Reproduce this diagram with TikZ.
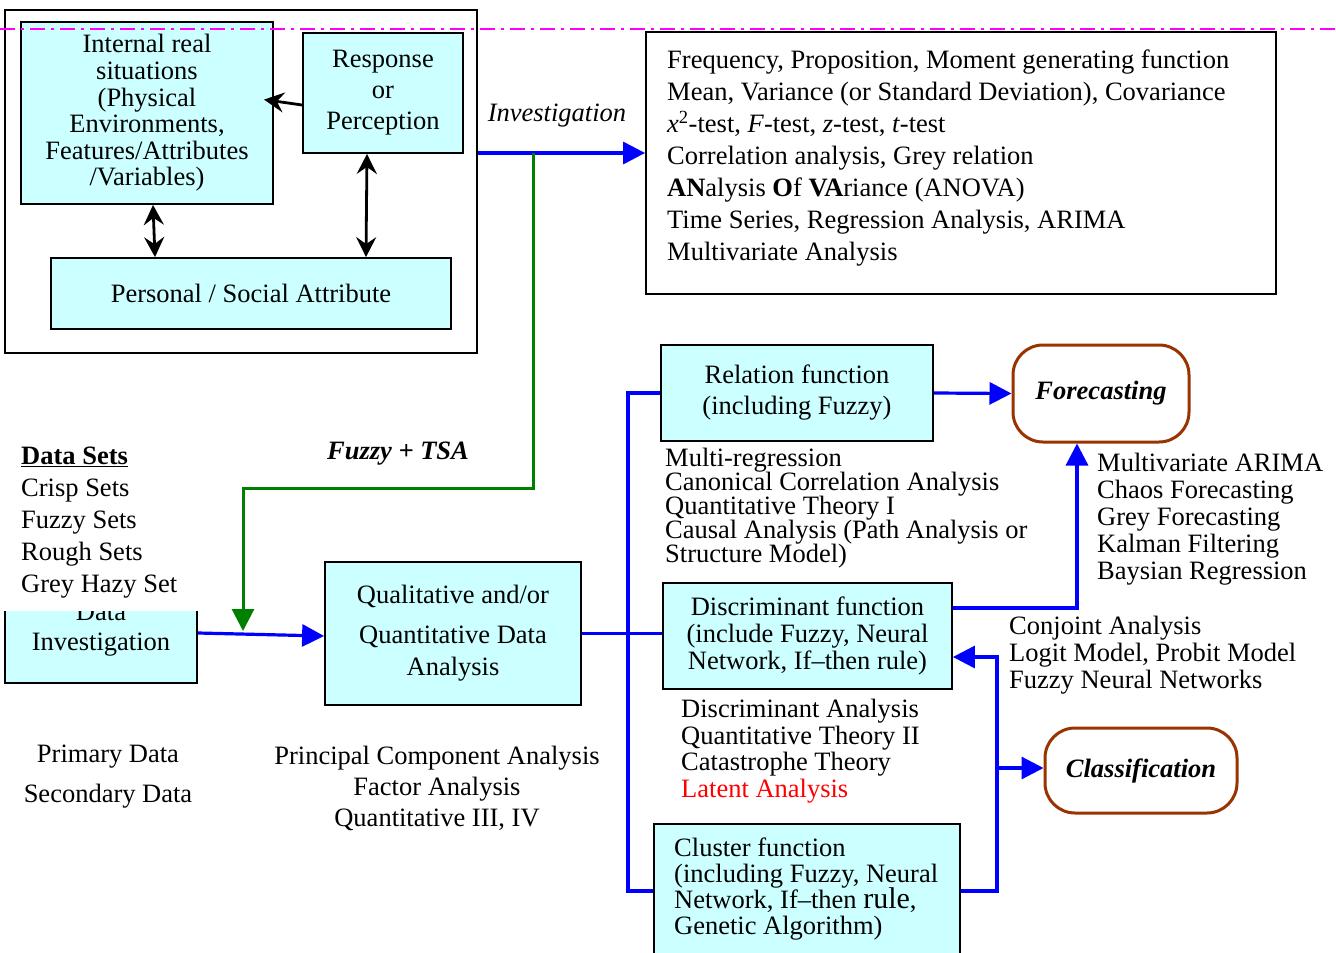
\documentclass[tikz,border=0pt]{standalone}
\usepackage{fontspec}
\setmainfont{Liberation Serif}
\usetikzlibrary{arrows.meta}

\definecolor{cyanfill}{HTML}{CCFFFF}
\definecolor{flowblue}{HTML}{0000FF}
\definecolor{flowgreen}{HTML}{008000}
\definecolor{rimbrown}{HTML}{993300}
\definecolor{guide}{HTML}{FF00FF}
\definecolor{alert}{HTML}{FF0000}

\newcommand{\fs}[2]{\fontsize{#1}{#2}\selectfont\lineskiplimit=-50pt\relax}

\begin{document}
\begin{tikzpicture}[x=1pt,y=-1pt,
  box/.style={draw=black, line width=1.8pt, fill=cyanfill, inner sep=0pt, align=center},
  frame/.style={draw=black, line width=1.8pt, inner sep=0pt},
  roundbox/.style={draw=rimbrown, line width=3pt, rounded corners=30pt, fill=white, inner sep=0pt,
    font=\fs{26.5}{30}\bfseries\itshape},
  txt/.style={inner sep=0pt, align=left},
  ctxt/.style={inner sep=0pt, align=center},
  blueflow/.style={draw=flowblue, line width=3.2pt},
  bluearrow/.style={blueflow, -{Triangle[length=22pt,width=22pt]}},
  greenarrow/.style={draw=flowgreen, line width=3pt, -{Triangle[length=22pt,width=22pt]}},
  blackarrow/.style={draw=black, line width=2.8pt, -{Stealth[length=20pt,width=20pt,inset=7pt]}},
  blackboth/.style={draw=black, line width=2.8pt,
    {Stealth[length=20pt,width=20pt,inset=7pt]}-{Stealth[length=20pt,width=20pt,inset=7pt]}}
]
\useasboundingbox (0,0) rectangle (1336,953);
\clip (0,0) rectangle (1336,953);
\fill[white] (0,0) rectangle (1336,953);

% ---- perception group (top left) ----
\node[frame, minimum width=472pt, minimum height=343pt] (outer) at (241,181.5) {};
\node[box, minimum width=252pt, minimum height=182pt, font=\fs{26.5}{26.6}] (internal) at (147,113)
  {Internal real\\situations\\(Physical\\Environments,\\Features/Attributes\\/Variables)};
\node[box, minimum width=160pt, minimum height=120pt, font=\fs{26.5}{31}] (resp) at (383,93)
  {Response\\or\\Perception};
\node[box, minimum width=400pt, minimum height=71pt, font=\fs{26.5}{30}] (personal) at (251,293.5)
  {Personal / Social Attribute};

\draw[blackarrow, shorten >=-10pt] (resp.west |- 0,105) -- (internal.east |- 0,101);
\draw[blackboth] (internal.south -| 153,0) -- (personal.north -| 155,0);
\draw[blackboth] (resp.south -| 367,0) -- (personal.north -| 366,0);

% ---- statistics list ----
\node[frame, minimum width=630pt, minimum height=262pt] (stats) at (961,163) {};
\node[txt, anchor=west, font=\fs{26.5}{32}] (statstext) at (667,158.5)
  {Frequency, Proposition, Moment generating function\\
   Mean, Variance (or Standard Deviation), Covariance\\
   \textit{x}\textsuperscript{2}-test, \textit{F}-test, \textit{z}-test, \textit{t}-test\\
   Correlation analysis, Grey relation\\
   \textbf{AN}alysis \textbf{O}f \textbf{VA}riance (ANOVA)\\
   Time Series, Regression Analysis, ARIMA\\
   Multivariate Analysis};

\node[ctxt, font=\fs{26.5}{30}\itshape] (invlabel) at (557,116) {Investigation};
\coordinate (gsplit) at (533,153);
\draw[bluearrow] (outer.east |- 0,153) -- (stats.west |- 0,153);

% ---- data side ----
\node[box, minimum width=192pt, minimum height=106pt, font=\fs{26.5}{30}] (datainv) at (101,630)
  {Data\\Investigation};
\fill[white] (0,438) rectangle (222,611);
\node[txt, anchor=west, font=\fs{26.5}{32}] (datasets) at (21,522.5)
  {\underline{\textbf{Data Sets}}\\Crisp Sets\\Fuzzy Sets\\Rough Sets\\Grey Hazy Set};

\node[ctxt, font=\fs{26.5}{30}\bfseries\itshape] (fuzzylabel) at (398,454) {Fuzzy + TSA};

\node[box, minimum width=256pt, minimum height=143pt, font=\fs{26.5}{32}] (qual) at (453,633.5)
  {Qualitative and/or\\[8pt]Quantitative Data\\Analysis};

\coordinate (gjoin) at (243,631);
\draw[greenarrow] (gsplit) -- (533,488) -| (gjoin);
\draw[bluearrow] (datainv.east |- 0,633) -- (qual.west |- 0,636);

\node[ctxt, font=\fs{26.5}{40}] (datakinds) at (108,777) {Primary Data\\Secondary Data};
\node[ctxt, font=\fs{26.5}{31}] (pca) at (437,788)
  {Principal Component Analysis\\Factor Analysis\\Quantitative III, IV};

% ---- function boxes ----
\node[box, minimum width=272pt, minimum height=96pt, font=\fs{26.5}{31}] (rel) at (797,393)
  {Relation function\\(including Fuzzy)};
\node[box, minimum width=289pt, minimum height=106pt, font=\fs{26.5}{27}] (disc) at (807.5,636)
  {Discriminant function\\(include Fuzzy, Neural\\Network, If–then rule)};
\node[box, minimum width=306pt, minimum height=140pt, anchor=north west] (cluster) at (653,823) {};
\node[txt, anchor=west, font=\fs{26.5}{26.3}] (clustertext) at (674,889)
  {Cluster function\\(including Fuzzy, Neural\\Network, If–then {\fontsize{30}{26}\selectfont rule},\\Genetic Algorithm)};

\node[txt, anchor=west, font=\fs{26.5}{24}] (reltext) at (665,508)
  {Multi-regression\\Canonical Correlation Analysis\\Quantitative Theory I\\Causal Analysis (Path Analysis or\\Structure Model)};
\node[txt, anchor=west, font=\fs{26.5}{26.5}] (disctext) at (681,751)
  {Discriminant Analysis\\Quantitative Theory II\\Catastrophe Theory\\\textcolor{alert}{Latent Analysis}};

% ---- outcomes ----
\node[roundbox, minimum width=176pt, minimum height=97pt] (fore) at (1101,393.5) {Forecasting};
\node[roundbox, minimum width=192pt, minimum height=85pt] (class) at (1141,770.5) {Classification};

\node[txt, anchor=west, font=\fs{26.5}{27}] (foretext) at (1097,519)
  {Multivariate ARIMA\\Chaos Forecasting\\Grey Forecasting\\Kalman Filtering\\Baysian Regression};
\node[txt, anchor=west, font=\fs{26.5}{27}] (conjtext) at (1009,655)
  {Conjoint Analysis\\Logit Model, Probit Model\\Fuzzy Neural Networks};

% ---- blue flow network ----
\draw[blueflow] (qual.east) -- (disc.west |- qual.east);
\draw[blueflow] (rel.west) -| (628,891) -- (cluster.west |- 0,891);
\draw[bluearrow] (rel.east) -- (fore.west);
\draw[bluearrow] (disc.east |- 0,608) -| (1077,0 |- fore.south);
\draw[bluearrow] (cluster.east |- 0,891) -- (997,891) -- (997,657) -- (disc.east |- 0,657);
\draw[bluearrow] (997,768) -- (class.west |- 0,768);

% ---- guide line across the top ----
\draw[guide, line width=2.4pt, dash pattern=on 15pt off 6pt on 3pt off 6pt] (0,29) -- (1336,29);
\end{tikzpicture}
\end{document}
